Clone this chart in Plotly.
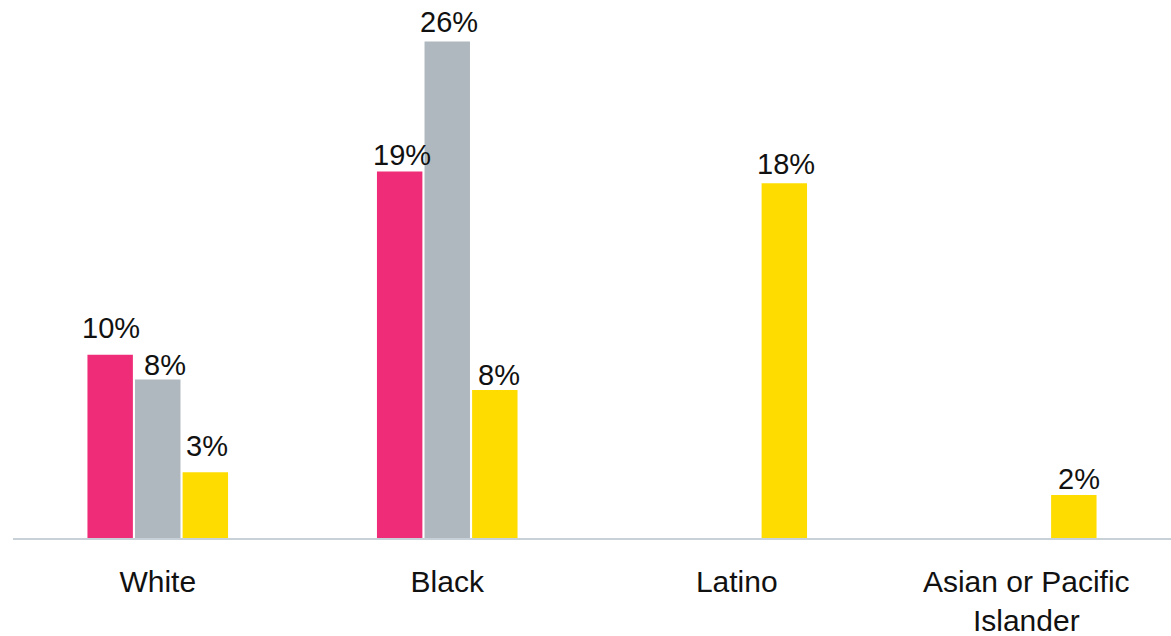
import plotly.graph_objects as go

categories = ["White", "Black", "Latino", "Asian or Pacific<br>Islander"]
series_names = ["Series A", "Series B", "Series C"]
series_a = [9.6, 19.2, None, None]
series_b = [8.3, 26.0, None, None]
series_c = [3.45, 7.75, 18.58, 2.25]
labels_a = ["10%", "19%", "", ""]
labels_b = ["8%", "26%", "", ""]
labels_c = ["3%", "8%", "18%", "2%"]

colors = ["#EE2C77", "#AEB8BE", "#FFDC00"]
FONT = "Liberation Sans, Arial, sans-serif"

# label nudges in pixels (dx, dy) per series / category, styling only
label_nudges = [
    [(1, 9), (2, -2), (0, 0), (0, 0)],
    [(7, -3), (1.5, 2), (0, 0), (0, 0)],
    [(2, 8), (4, -3), (2, 1), (5.5, -2)],
]

fig = go.Figure()
all_vals = [series_a, series_b, series_c]
all_labs = [labels_a, labels_b, labels_c]
for name, vals, col in zip(series_names, all_vals, colors):
    fig.add_trace(go.Bar(
        x=categories, y=vals, name=name,
        marker=dict(color=col, line=dict(width=0)),
        hoverinfo="skip",
    ))

# data labels above bars (offset per group slot)
slot_px = 47.7
for i, (vals, labs) in enumerate(zip(all_vals, all_labs)):
    for j, (cat, v, lab) in enumerate(zip(categories, vals, labs)):
        if v is None or not lab:
            continue
        dx, dy = label_nudges[i][j]
        fig.add_annotation(
            x=cat, y=v, xref="x", yref="y", text=lab, showarrow=False,
            xanchor="center", yanchor="bottom",
            xshift=(i - 1) * slot_px + dx, yshift=dy,
            font=dict(family=FONT, size=29, color="#111111"),
        )

fig.update_layout(
    width=1171, height=636,
    margin=dict(l=13, r=0, t=0, b=98, autoexpand=False),
    barmode="group", bargap=0.507, bargroupgap=0.045,
    plot_bgcolor="white", paper_bgcolor="white",
    showlegend=False,
    font=dict(family=FONT, color="#111111"),
)
fig.update_xaxes(
    showline=True, linecolor="#C8D0D8", linewidth=2,
    showgrid=False, zeroline=False, ticks="",
    tickfont=dict(size=30, color="#111111"),
    ticklabelstandoff=16, automargin=False,
)
fig.update_yaxes(
    range=[0, 28.18], visible=False, showgrid=False, zeroline=False, automargin=False,
)

fig.write_html(
    "out.html",
    config={"displayModeBar": False, "staticPlot": True},
    post_script="document.body.style.margin='0';document.body.style.overflow='hidden';",
)
